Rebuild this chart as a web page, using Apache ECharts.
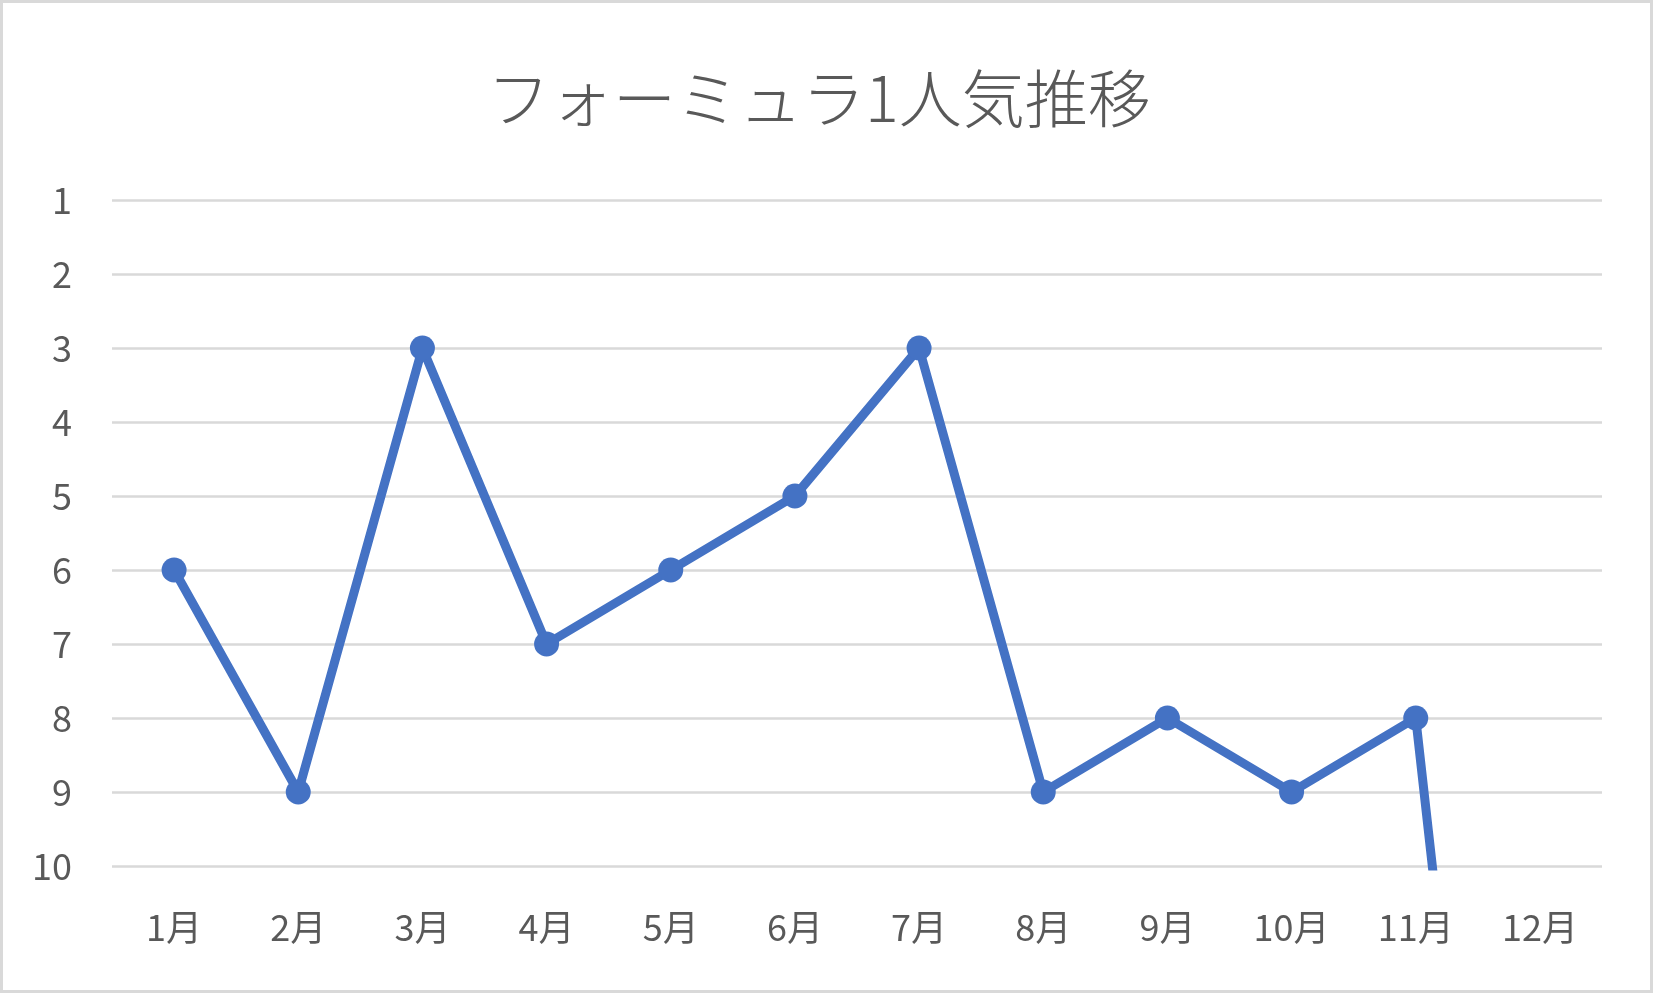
<!DOCTYPE html>
<html>
<head>
<meta charset="utf-8">
<script src="https://cdn.jsdelivr.net/npm/echarts@6/dist/echarts.min.js"></script>
<style>
  html, body { margin: 0; padding: 0; background: #fff; }
  #chart { width: 1653px; height: 993px; }
  #frame {
    position: absolute; left: 0; top: 0; width: 1653px; height: 993px;
    box-sizing: border-box; border: 3px solid #d9d9d9; pointer-events: none;
  }
</style>
</head>
<body>
<div id="chart"></div>
<div id="frame"></div>
<script>
// 月ごとの順位
const months = ['1月', '2月', '3月', '4月', '5月', '6月', '7月', '8月', '9月', '10月', '11月', '12月']
const ranks = [6, 9, 3, 7, 6, 5, 3, 9, 8, 9, 8, 23]
const titleText = 'フォーミュラ1人気推移'

const font = "'Noto Sans CJK JP', 'Noto Sans', sans-serif"
const chart = echarts.init(document.getElementById('chart'))

chart.setOption({
  animation: false,
  title: {
    text: titleText,
    left: 482,
    top: 62,
    textStyle: { fontFamily: font, fontSize: 63, fontWeight: 300, color: '#595959' },
  },
  grid: { left: 112, right: 51, top: 200, bottom: 127 },
  xAxis: {
    type: 'category',
    data: months,
    axisLine: { show: false },
    axisTick: { show: false },
    axisLabel: { margin: 43, fontFamily: font, fontSize: 36, color: '#595959' },
  },
  yAxis: {
    type: 'value',
    inverse: true,
    min: 1,
    max: 10,
    interval: 1,
    axisLine: { show: false },
    axisTick: { show: false },
    axisLabel: { margin: 40, fontFamily: font, fontSize: 36, color: '#595959' },
    splitLine: { lineStyle: { color: '#d9d9d9', width: 2.5 } },
  },
  series: [
    {
      type: 'line',
      data: ranks,
      clip: true,
      symbol: 'circle',
      symbolSize: 25,
      itemStyle: { color: '#4472c4' },
      lineStyle: { color: '#4472c4', width: 9 },
    },
  ],
})
</script>
</body>
</html>
